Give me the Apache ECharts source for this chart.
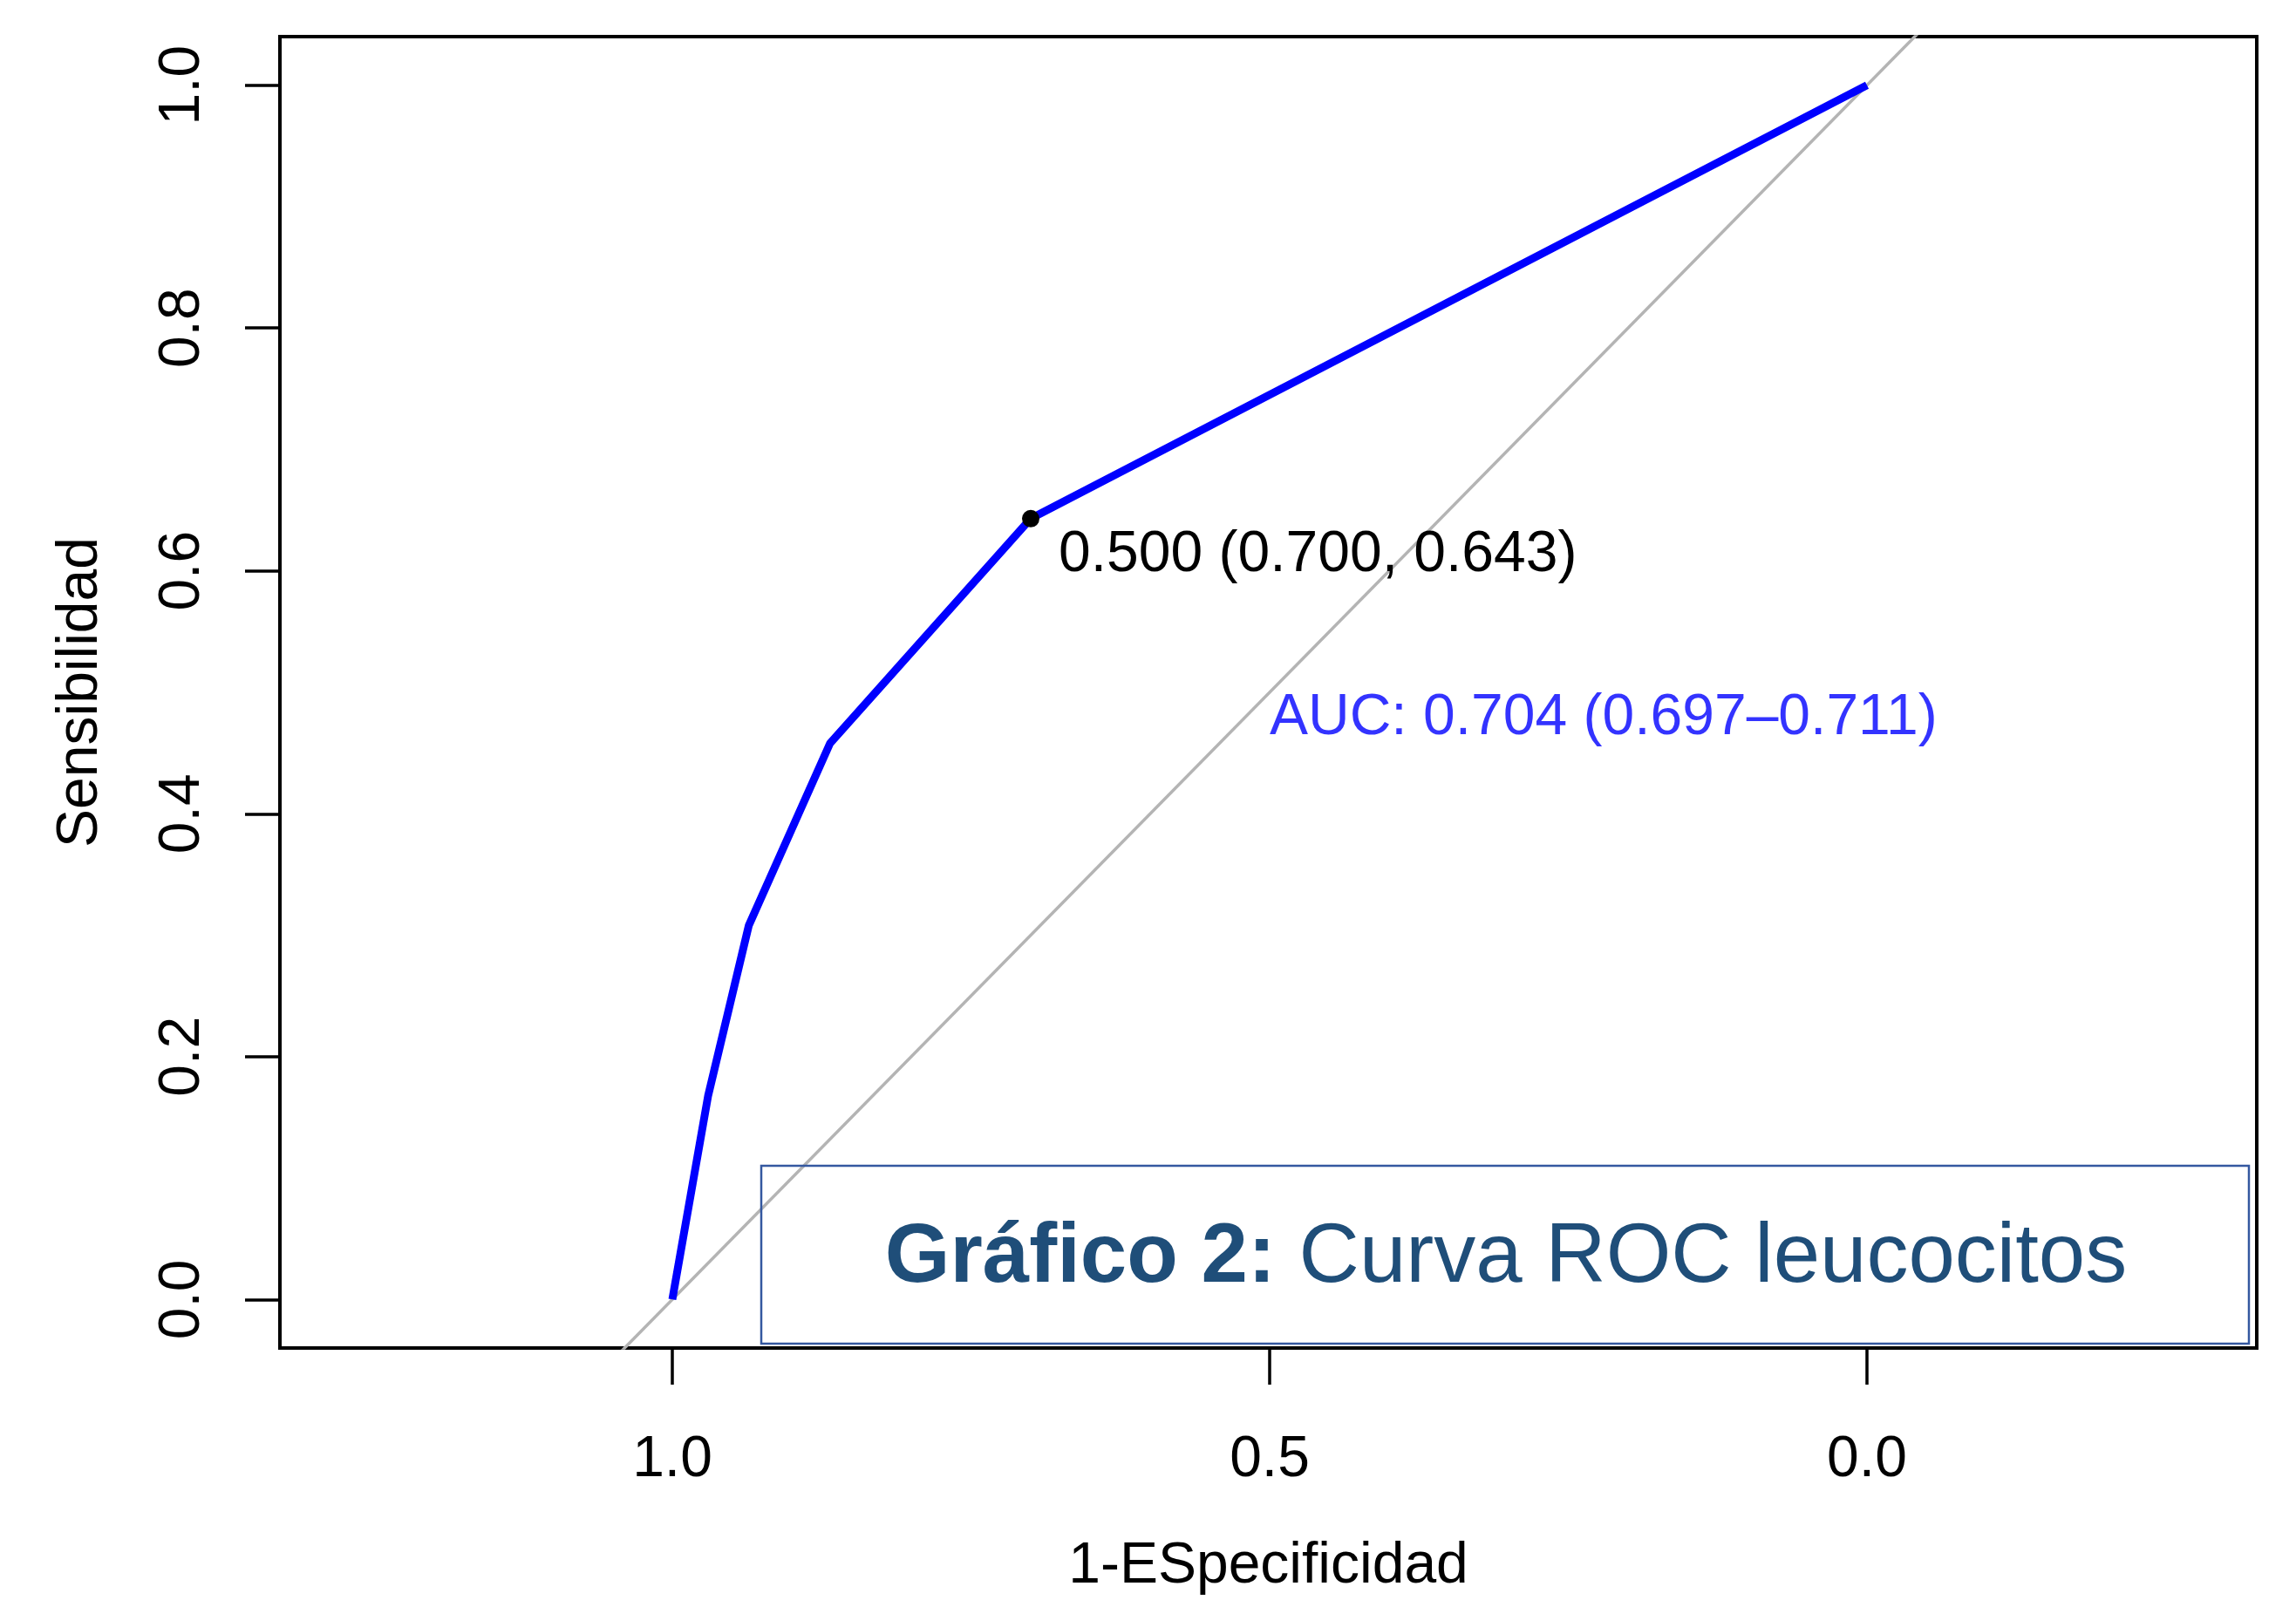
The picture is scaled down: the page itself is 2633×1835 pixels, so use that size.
<!DOCTYPE html>
<html>
<head>
<meta charset="utf-8">
<script src="https://cdn.jsdelivr.net/npm/echarts@6/dist/echarts.min.js"></script>
<style>
html,body{margin:0;padding:0;background:#fff;}
#chart{width:2633px;height:1835px;}
</style>
</head>
<body>
<div id="chart"></div>
<script>
// ---- data ----
const specificity = [1.0, 0.970, 0.936, 0.868, 0.700, 0.0];
const sensitivity = [0.0, 0.168, 0.308, 0.458, 0.643, 1.0];
const refSpec = [1.2, -0.2];
const refSens = [-0.2, 1.2];
const bestThreshold = 0.500;
const bestSpec = 0.700;
const bestSens = 0.643;
const aucValue = 0.704;
const aucCI = [0.697, 0.711];
const aucPos = [0.5, 0.5];
const xTicks = [1.0, 0.5, 0.0];
const yTicks = [0.0, 0.2, 0.4, 0.6, 0.8, 1.0];
const xAxisName = '1-ESpecificidad';
const yAxisName = 'Sensibilidad';
const titleBold = 'Gráfico 2:';
const titleRest = ' Curva ROC leucocitos';

const FONT = "'Liberation Sans', Arial, Helvetica, sans-serif";
const chart = echarts.init(document.getElementById('chart'), null, {renderer: 'canvas'});

const rocData = specificity.map((s, i) => [s, sensitivity[i]]);
const refData = refSpec.map((s, i) => [s, refSens[i]]);
const thrLabel = bestThreshold.toFixed(3) + ' (' + bestSpec.toFixed(3) + ', ' + bestSens.toFixed(3) + ')';
const aucLabel = 'AUC: ' + aucValue.toFixed(3) + ' (' + aucCI[0].toFixed(3) + '\u2013' + aucCI[1].toFixed(3) + ')';

const option = {
  animation: false,
  backgroundColor: '#ffffff',
  grid: {
    left: 321, right: 45, top: 42, bottom: 282,
    show: true, borderColor: '#000', borderWidth: 4, backgroundColor: 'transparent'
  },
  xAxis: {
    type: 'value', inverse: true, min: -0.3263, max: 1.3285,
    name: xAxisName, nameLocation: 'middle', nameGap: 218,
    nameTextStyle: {fontFamily: FONT, fontSize: 66, color: '#000'},
    axisLine: {show: false, onZero: false},
    splitLine: {show: false},
    axisTick: {show: true, customValues: xTicks, length: 42, lineStyle: {color: '#000', width: 3.5}},
    axisLabel: {show: true, customValues: xTicks, margin: 96, fontFamily: FONT, fontSize: 66, color: '#000',
      formatter: v => v.toFixed(1)}
  },
  yAxis: {
    type: 'value', min: -0.04, max: 1.04,
    name: yAxisName, nameLocation: 'middle', nameGap: 195, nameRotate: 90,
    nameTextStyle: {fontFamily: FONT, fontSize: 66, color: '#000'},
    axisLine: {show: false, onZero: false},
    splitLine: {show: false},
    axisTick: {show: true, customValues: yTicks, length: 40, lineStyle: {color: '#000', width: 3.5}},
    axisLabel: {show: true, customValues: yTicks, margin: 78, rotate: 90, fontFamily: FONT, fontSize: 66, color: '#000',
      formatter: v => v.toFixed(1)}
  },
  series: [
    {
      type: 'line', data: refData, showSymbol: false, clip: true, z: 2,
      lineStyle: {color: '#B4B4B4', width: 3.5}
    },
    {
      type: 'line', data: rocData, showSymbol: false, clip: true, z: 3,
      lineStyle: {color: '#0000FF', width: 9}
    },
    {
      type: 'scatter', data: [[bestSpec, bestSens]], symbol: 'circle', symbolSize: 20, z: 5,
      itemStyle: {color: '#000', opacity: 1},
      label: {show: true, formatter: thrLabel, position: [42, 52], align: 'left', verticalAlign: 'middle',
        fontFamily: FONT, fontSize: 66, color: '#000'}
    },
    {
      type: 'scatter', data: [aucPos], symbolSize: 0, z: 4,
      itemStyle: {color: 'transparent'},
      label: {show: true, formatter: aucLabel, position: [0, 0], offset: [0, 30], align: 'left', verticalAlign: 'middle',
        fontFamily: FONT, fontSize: 66, color: '#0000FF'}
    }
  ],
  graphic: [
    {
      type: 'rect', z: 10,
      shape: {x: 873, y: 1337, width: 1706, height: 204},
      style: {fill: 'transparent', stroke: '#3458A0', lineWidth: 2.5}
    },
    {
      type: 'text', z: 11, x: 1727, y: 1444,
      style: {
        text: '{b|' + titleBold + '}{r|' + titleRest + '}',
        align: 'center', verticalAlign: 'middle',
        rich: {
          b: {fontFamily: FONT, fontSize: 96, fontWeight: 'bold', fill: '#1F4E79', color: '#1F4E79'},
          r: {fontFamily: FONT, fontSize: 96, fontWeight: 'normal', fill: '#1F4E79', color: '#1F4E79'}
        },
        fill: '#1F4E79', fontFamily: FONT, fontSize: 96
      }
    }
  ]
};
chart.setOption(option);
</script>
</body>
</html>
